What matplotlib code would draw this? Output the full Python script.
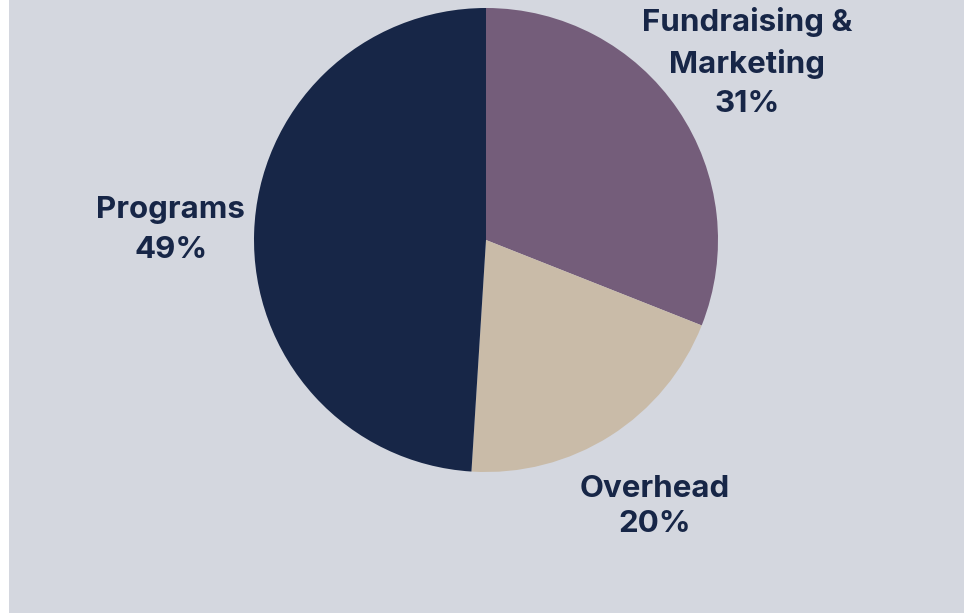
import matplotlib
matplotlib.use("Agg")
import matplotlib.pyplot as plt
from matplotlib.patches import Rectangle

categories = ["Fundraising &\nMarketing", "Overhead", "Programs"]
values = [31, 20, 49]
colors = ["#745d7a", "#c9bba8", "#172647"]
line_spacings = [1.5, 1.3, 1.52]
text_color = "#172647"
bg_color = "#d4d7df"

W, H = 967, 613
fig = plt.figure(figsize=(W / 100, H / 100), dpi=100)
fig.patch.set_facecolor("white")
fig.patches.append(Rectangle((9 / W, 0), (964 - 9) / W, 1, transform=fig.transFigure,
                             facecolor=bg_color, edgecolor="none", zorder=-10))

cx, cy, r = 486, 240, 232
ax = fig.add_axes([(cx - r) / W, (H - cy - r) / H, 2 * r / W, 2 * r / H])
ax.set_facecolor("none")

labels = [f"{c}\n{v}%" for c, v in zip(categories, values)]
wedges, texts = ax.pie(values, labels=labels, colors=colors, startangle=90,
                       counterclock=False, labeldistance=1.36, radius=1,
                       wedgeprops=dict(linewidth=0),
                       textprops=dict(ha="center", va="center", multialignment="center",
                                      color=text_color, fontsize=22.5, fontweight="bold",
                                      family=["Inter", "DejaVu Sans"]))
for t, ls in zip(texts, line_spacings):
    t.set_linespacing(ls)
ax.set_xlim(-1, 1)
ax.set_ylim(-1, 1)
ax.set_aspect("equal")
ax.axis("off")

fig.savefig("out.png", dpi=100, facecolor=fig.get_facecolor())
